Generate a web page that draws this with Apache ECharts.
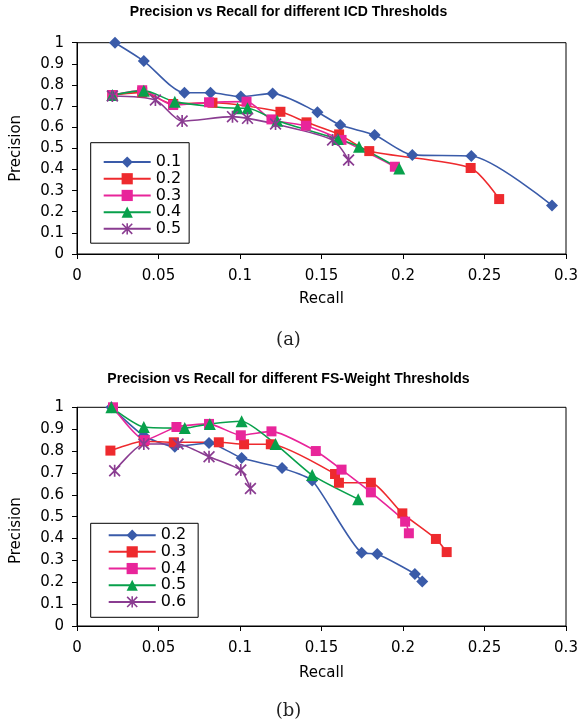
<!DOCTYPE html>
<html>
<head>
<meta charset="utf-8">
<script src="https://cdn.jsdelivr.net/npm/echarts@6/dist/echarts.min.js"></script>
<style>html,body{margin:0;padding:0;background:#fff}#c{width:577px;height:723px}</style>
</head>
<body>
<div id="c"></div>
<script>
// ---------- Chart (a): ICD thresholds ----------
const icdNames = ['0.1', '0.2', '0.3', '0.4', '0.5'];
const icdRecall01 = [0.0233, 0.041, 0.0659, 0.0819, 0.1005, 0.12, 0.1475, 0.1615, 0.1826, 0.2057, 0.2419, 0.2914];
const icdPrec01   = [1.0, 0.913, 0.763, 0.763, 0.745, 0.759, 0.671, 0.61, 0.563, 0.469, 0.464, 0.23];
const icdRecall02 = [0.0217, 0.040, 0.059, 0.0831, 0.1248, 0.1408, 0.1608, 0.1793, 0.2415, 0.259];
const icdPrec02   = [0.752, 0.765, 0.71, 0.716, 0.673, 0.623, 0.566, 0.487, 0.407, 0.26];
const icdRecall03 = [0.0217, 0.040, 0.059, 0.081, 0.104, 0.1193, 0.1404, 0.1623, 0.195];
const icdPrec03   = [0.752, 0.775, 0.705, 0.718, 0.721, 0.637, 0.607, 0.54, 0.413];
const icdRecall04 = [0.0217, 0.041, 0.06, 0.0985, 0.1046, 0.1228, 0.16, 0.173, 0.1977];
const icdPrec04   = [0.752, 0.773, 0.721, 0.69, 0.69, 0.631, 0.544, 0.508, 0.405];
const icdRecall05 = [0.0217, 0.0481, 0.0645, 0.0954, 0.1046, 0.1218, 0.1568, 0.1666];
const icdPrec05   = [0.748, 0.729, 0.629, 0.65, 0.642, 0.615, 0.54, 0.445];

// ---------- Chart (b): FS-Weight thresholds ----------
const fsNames = ['0.2', '0.3', '0.4', '0.5', '0.6'];
const fsRecall02 = [0.0211, 0.041, 0.06, 0.081, 0.101, 0.1258, 0.1443, 0.1746, 0.1842, 0.2073, 0.2118];
const fsPrec02   = [1.0, 0.87, 0.82, 0.837, 0.768, 0.722, 0.665, 0.335, 0.329, 0.238, 0.204];
const fsRecall03 = [0.0205, 0.041, 0.0594, 0.087, 0.1025, 0.1189, 0.1583, 0.1607, 0.1803, 0.1996, 0.2202, 0.2268];
const fsPrec03   = [0.802, 0.845, 0.84, 0.84, 0.831, 0.831, 0.695, 0.655, 0.655, 0.515, 0.398, 0.338];
const fsRecall04 = [0.0221, 0.0416, 0.061, 0.081, 0.1005, 0.1193, 0.1465, 0.1623, 0.1803, 0.2013, 0.2036];
const fsPrec04   = [1.0, 0.85, 0.91, 0.924, 0.872, 0.89, 0.80, 0.715, 0.611, 0.477, 0.424];
const fsRecall05 = [0.0211, 0.041, 0.0661, 0.0815, 0.101, 0.1218, 0.1443, 0.1725];
const fsPrec05   = [1.0, 0.91, 0.905, 0.924, 0.936, 0.832, 0.69, 0.58];
const fsRecall06 = [0.0231, 0.041, 0.062, 0.081, 0.1005, 0.1064];
const fsPrec06   = [0.71, 0.832, 0.832, 0.774, 0.713, 0.629];

const xTicks = [0, 0.05, 0.1, 0.15, 0.2, 0.25, 0.3];
const yTicks = [0, 0.1, 0.2, 0.3, 0.4, 0.5, 0.6, 0.7, 0.8, 0.9, 1];

const colors = ['#3A5BA9', '#EE2A2E', '#E8259A', '#08A04B', '#8A3C91'];
const ASTER = 'path://M4.3,0 L5.7,0 L5.7,10 L4.3,10 Z M0,1 L1,0 L10,9 L9,10 Z M9,0 L10,1 L1,10 L0,9 Z';
const symbols = ['diamond', 'rect', 'rect', 'triangle', ASTER];
const symSizes = [12, 10, 10, 12, 12];

function pairs(xs, ys) { return xs.map((x, i) => [x, ys[i]]); }

const icdData = [pairs(icdRecall01, icdPrec01), pairs(icdRecall02, icdPrec02), pairs(icdRecall03, icdPrec03), pairs(icdRecall04, icdPrec04), pairs(icdRecall05, icdPrec05)];
const fsData = [pairs(fsRecall02, fsPrec02), pairs(fsRecall03, fsPrec03), pairs(fsRecall04, fsPrec04), pairs(fsRecall05, fsPrec05), pairs(fsRecall06, fsPrec06)];

const FONT = 'DejaVu Sans';
function mkX(idx, gap) {
  return {
    gridIndex: idx, type: 'value', min: xTicks[0], max: xTicks[xTicks.length - 1], interval: 0.05,
    name: 'Recall', nameLocation: 'middle', nameGap: gap,
    nameTextStyle: { fontFamily: FONT, fontSize: 15, color: '#000' },
    axisLine: { show: true, onZero: false, lineStyle: { color: '#000', width: 1 } },
    axisTick: { show: true, inside: false, length: 5, lineStyle: { color: '#000' } },
    axisLabel: { fontFamily: FONT, fontSize: 15, color: '#000', margin: 15, hideOverlap: false },
    splitLine: { show: false }
  };
}
function mkY(idx, pad) {
  return {
    gridIndex: idx, type: 'value', min: yTicks[0], max: yTicks[yTicks.length - 1], interval: 0.1,
    name: 'Precision', nameLocation: 'middle', nameGap: 53, nameRotate: 90,
    nameTextStyle: { fontFamily: FONT, fontSize: 15, color: '#000', padding: pad },
    axisLine: { show: true, onZero: false, lineStyle: { color: '#000', width: 1 } },
    axisTick: { show: true, inside: false, length: 5, lineStyle: { color: '#000' } },
    axisLabel: { fontFamily: FONT, fontSize: 15, color: '#000', margin: 13 },
    splitLine: { show: false }
  };
}

const series = [];
icdNames.forEach((n, i) => {
  series.push({
    name: 'A' + n, type: 'line', xAxisIndex: 0, yAxisIndex: 0, data: icdData[i],
    smooth: 0.25, symbol: symbols[i], symbolSize: symSizes[i], showAllSymbol: true,
    lineStyle: { color: colors[i], width: 1.6 }, itemStyle: { color: colors[i], borderWidth: 0 },
    emphasis: { disabled: true }, animation: false
  });
});
fsNames.forEach((n, i) => {
  series.push({
    name: 'B' + n, type: 'line', xAxisIndex: 1, yAxisIndex: 1, data: fsData[i],
    smooth: 0.2, symbol: symbols[i], symbolSize: symSizes[i], showAllSymbol: true,
    lineStyle: { color: colors[i], width: 1.6 }, itemStyle: { color: colors[i], borderWidth: 0 },
    emphasis: { disabled: true }, animation: false
  });
});

const legendCommon = {
  orient: 'vertical', itemWidth: 47, itemHeight: 14, itemGap: 0,
  borderColor: '#000', borderWidth: 1, backgroundColor: '#fff',
  textStyle: { fontFamily: FONT, fontSize: 16, color: '#000', lineHeight: 16.7 },
  formatter: n => n.substring(1), selectedMode: false
};

const chart = echarts.init(document.getElementById('c'), null, { renderer: 'canvas' });
chart.setOption({
  animation: false,
  backgroundColor: '#fff',
  title: [
    { text: 'Precision vs Recall for different ICD Thresholds', left: 'center', top: 5, padding: 0,
      textStyle: { fontFamily: 'Liberation Sans', fontWeight: 'bold', fontSize: 14, color: '#000' } },
    { text: 'Precision vs Recall for different FS-Weight Thresholds', left: 'center', top: 372, padding: 0,
      textStyle: { fontFamily: 'Liberation Sans', fontWeight: 'bold', fontSize: 14, color: '#000' } },
    { text: '(a)', left: 'center', top: 331, padding: 0,
      textStyle: { fontFamily: 'DejaVu Serif', fontWeight: 'normal', fontSize: 18, color: '#222' } },
    { text: '(b)', left: 'center', top: 702, padding: 0,
      textStyle: { fontFamily: 'DejaVu Serif', fontWeight: 'normal', fontSize: 18, color: '#222' } }
  ],
  grid: [
    { left: 77, right: 11, top: 42.7, height: 211.3, show: true, borderColor: '#000', borderWidth: 1, backgroundColor: 'transparent', containLabel: false, outerBoundsMode: 'none' },
    { left: 77, right: 11, top: 407.3, height: 218.7, show: true, borderColor: '#000', borderWidth: 1, backgroundColor: 'transparent', containLabel: false, outerBoundsMode: 'none' }
  ],
  xAxis: [mkX(0, 38), mkX(1, 40)],
  yAxis: [mkY(0, 0), mkY(1, [0, 28, 0, 0])],
  legend: [
    Object.assign({}, legendCommon, { left: 90.7, top: 142.7, padding: [11, 8, 6, 12], data: icdNames.map(n => 'A' + n) }),
    Object.assign({}, legendCommon, { left: 90.7, top: 523.3, padding: [3.5, 12, 7, 17], data: fsNames.map(n => 'B' + n) })
  ],
  series: series
});
</script>
</body>
</html>
